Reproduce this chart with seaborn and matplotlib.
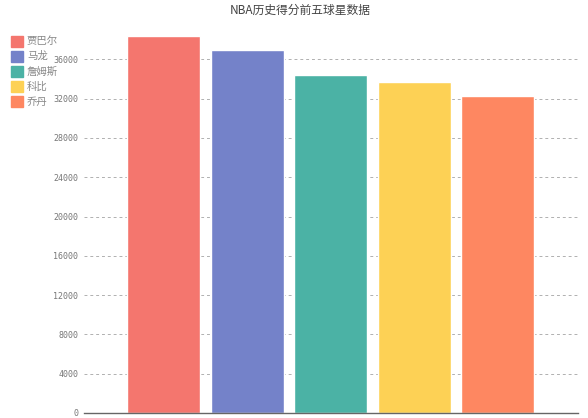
import matplotlib
matplotlib.use("Agg")
import matplotlib.pyplot as plt
import seaborn as sns
import pandas as pd

players = ["贾巴尔", "马龙", "詹姆斯", "科比", "乔丹"]
points = [38387, 36928, 34400, 33643, 32292]
colors = ["#f4766e", "#7482c9", "#4bb2a5", "#fdd155", "#fe8761"]
yticks = list(range(0, 40000, 4000))

df = pd.DataFrame({"player": players, "points": points})

sns.set_style("white")
plt.rcParams["font.family"] = ["Noto Sans CJK SC", "DejaVu Sans"]

fig = plt.figure(figsize=(5.88, 4.18), dpi=100)
ax = fig.add_axes([84 / 588, 5 / 418, 494 / 588, 393 / 418])

sns.barplot(data=df, x="player", y="points", hue="player", palette=colors,
            width=0.873, dodge=False, legend=False, ax=ax, saturation=1)

ax.set_xlim(-0.951, 4.958)
ax.set_ylim(0, 40000)
ax.set_yticks(yticks)
ax.set_yticklabels([str(t) for t in yticks], fontsize=6, color="#777777",
                   family="DejaVu Sans Mono")
ax.tick_params(axis="y", length=0, pad=4)
ax.set_xticks([])
ax.set_xlabel("")
ax.set_ylabel("")
ax.yaxis.grid(True, linestyle=(0, (3, 3)), color="#b0b0b0", linewidth=0.7)
ax.set_axisbelow(True)
for s in ["top", "right", "left"]:
    ax.spines[s].set_visible(False)
ax.spines["bottom"].set_color("#666666")
ax.spines["bottom"].set_linewidth(1)

fig.text(300 / 588, 1 - 10 / 418, "NBA历史得分前五球星数据", ha="center", va="center",
         fontsize=8.5, color="#444444")

# legend on the left
for i, (name, c) in enumerate(zip(players, colors)):
    y = 1 - (41 + i * 15.2) / 418
    fig.patches.append(plt.Rectangle((11 / 588, y - 5.5 / 418), 12 / 588, 11 / 418,
                                     transform=fig.transFigure, color=c))
    fig.text(27 / 588, y, name, ha="left", va="center", fontsize=7.5, color="#888888")

fig.savefig("out.png", dpi=100)
